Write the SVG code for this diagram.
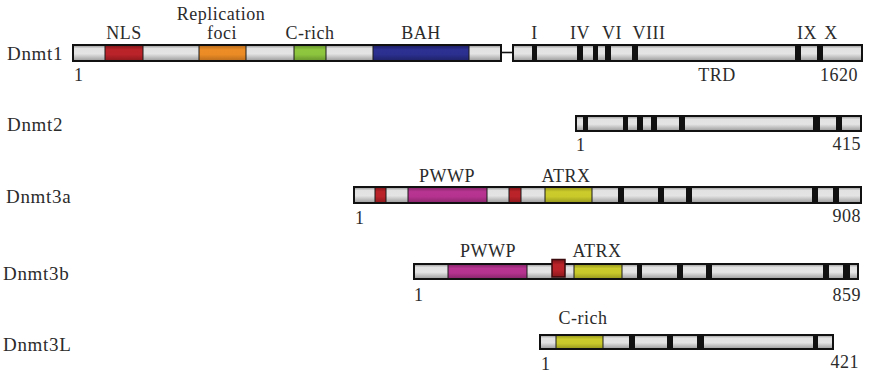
<svg xmlns="http://www.w3.org/2000/svg" width="870" height="377" viewBox="0 0 870 377">
<defs>
<linearGradient id="gGray" x1="0" y1="0" x2="0" y2="1">
<stop offset="0" stop-color="#8e8e8e"/><stop offset="0.22" stop-color="#e2e2e2"/><stop offset="0.55" stop-color="#e4e4e4"/><stop offset="1" stop-color="#9a9a9a"/>
</linearGradient>
<linearGradient id="gRed" x1="0" y1="0" x2="0" y2="1">
<stop offset="0" stop-color="#7a1418"/><stop offset="0.3" stop-color="#bb2429"/><stop offset="0.6" stop-color="#b92329"/><stop offset="1" stop-color="#8a181c"/>
</linearGradient>
<linearGradient id="gOrange" x1="0" y1="0" x2="0" y2="1">
<stop offset="0" stop-color="#b0661a"/><stop offset="0.3" stop-color="#ec8d26"/><stop offset="0.6" stop-color="#ea8b25"/><stop offset="1" stop-color="#b86b1c"/>
</linearGradient>
<linearGradient id="gGreen" x1="0" y1="0" x2="0" y2="1">
<stop offset="0" stop-color="#5f8a2a"/><stop offset="0.3" stop-color="#8fc83f"/><stop offset="0.6" stop-color="#8cc43e"/><stop offset="1" stop-color="#66922d"/>
</linearGradient>
<linearGradient id="gBlue" x1="0" y1="0" x2="0" y2="1">
<stop offset="0" stop-color="#1a1c5e"/><stop offset="0.3" stop-color="#2d3192"/><stop offset="0.6" stop-color="#2b2f8e"/><stop offset="1" stop-color="#1e2166"/>
</linearGradient>
<linearGradient id="gMag" x1="0" y1="0" x2="0" y2="1">
<stop offset="0" stop-color="#7e2363"/><stop offset="0.3" stop-color="#b83592"/><stop offset="0.6" stop-color="#b5338f"/><stop offset="1" stop-color="#86256a"/>
</linearGradient>
<linearGradient id="gYel" x1="0" y1="0" x2="0" y2="1">
<stop offset="0" stop-color="#8f8f1c"/><stop offset="0.3" stop-color="#cccc2c"/><stop offset="0.6" stop-color="#c9c92b"/><stop offset="1" stop-color="#96961e"/>
</linearGradient>
</defs>
<style>
text{font-family:"Liberation Serif","Times New Roman",serif;font-size:18px;fill:#2b2b2b;letter-spacing:0.5px}
.row{font-size:19px;letter-spacing:0.7px}
.m{text-anchor:middle}
.e{text-anchor:end}
.g{fill:url(#gGray)}
.red{fill:url(#gRed)}
.or{fill:url(#gOrange)}
.gr{fill:url(#gGreen)}
.bl{fill:url(#gBlue)}
.mg{fill:url(#gMag)}
.yl{fill:url(#gYel)}
.seg{stroke:#1a1a1a;stroke-width:1}
.band{fill:#111}
.out{fill:none;stroke:#111;stroke-width:2}
.link{stroke:#111;stroke-width:1.6;fill:none}
</style>

<g id="dnmt1">
<text class="row" x="7" y="60">Dnmt1</text>
<rect class="g" x="73" y="45" width="428" height="16"/>
<rect class="seg red" x="105" y="45" width="38" height="16"/>
<rect class="seg or" x="199" y="45" width="47" height="16"/>
<rect class="seg gr" x="294" y="45" width="32" height="16"/>
<rect class="seg bl" x="373" y="45" width="96" height="16"/>
<rect class="out" x="73" y="45" width="428" height="16"/>
<rect class="g" x="513" y="45" width="349" height="16"/>
<rect class="band" x="532" y="45" width="5" height="16"/>
<rect class="band" x="577" y="45" width="6" height="16"/>
<rect class="band" x="593" y="45" width="5" height="16"/>
<rect class="band" x="605" y="45" width="6" height="16"/>
<rect class="band" x="632" y="45" width="6" height="16"/>
<rect class="band" x="795" y="45" width="6" height="16"/>
<rect class="band" x="817" y="45" width="6" height="16"/>
<rect class="out" x="513" y="45" width="349" height="16"/>
<text class="m" x="124" y="38.5">NLS</text>
<text class="m" x="221" y="20">Replication</text>
<text class="m" x="222" y="38.5">foci</text>
<text class="m" x="310" y="38.5">C-rich</text>
<text class="m" x="421" y="38.5">BAH</text>
<text class="m" x="534.5" y="38.5">I</text>
<text class="m" x="580" y="38.5">IV</text>
<text class="m" x="612" y="38.5">VI</text>
<text class="m" x="649" y="38.5">VIII</text>
<text class="m" x="807" y="38.5">IX</text>
<text class="m" x="831" y="38.5">X</text>
<text x="74" y="81">1</text>
<text class="m" x="717" y="81">TRD</text>
<text class="e" x="858" y="81">1620</text>
</g>

<g id="dnmt2">
<text class="row" x="7" y="131">Dnmt2</text>
<rect class="g" x="576" y="116" width="285" height="15"/>
<rect class="band" x="583" y="116" width="5" height="15"/>
<rect class="band" x="623" y="116" width="5" height="15"/>
<rect class="band" x="637" y="116" width="6" height="15"/>
<rect class="band" x="651" y="116" width="6" height="15"/>
<rect class="band" x="679" y="116" width="6" height="15"/>
<rect class="band" x="813" y="116" width="7" height="15"/>
<rect class="band" x="836" y="116" width="6" height="15"/>
<rect class="out" x="576" y="116" width="285" height="15"/>
<text x="576" y="151">1</text>
<text class="e" x="861" y="150">415</text>
</g>

<g id="dnmt3a">
<text class="row" x="6" y="203">Dnmt3a</text>
<rect class="g" x="354" y="187" width="507" height="16"/>
<rect class="seg red" x="375" y="187" width="11" height="16"/>
<rect class="seg mg" x="408" y="187" width="79" height="16"/>
<rect class="seg red" x="509" y="187" width="12" height="16"/>
<rect class="seg yl" x="545" y="187" width="47" height="16"/>
<rect class="band" x="618" y="187" width="6" height="16"/>
<rect class="band" x="658" y="187" width="6" height="16"/>
<rect class="band" x="686" y="187" width="6" height="16"/>
<rect class="band" x="812" y="187" width="6" height="16"/>
<rect class="band" x="833" y="187" width="6" height="16"/>
<rect class="out" x="354" y="187" width="507" height="16"/>
<text class="m" x="447" y="181.5">PWWP</text>
<text class="m" x="566" y="181.5">ATRX</text>
<text x="355" y="224">1</text>
<text class="e" x="861" y="222">908</text>
</g>

<g id="dnmt3b">
<text class="row" x="3" y="280">Dnmt3b</text>
<rect class="g" x="414" y="264" width="444" height="15"/>
<rect class="seg mg" x="448" y="264" width="79" height="15"/>
<rect class="seg yl" x="574" y="264" width="48" height="15"/>
<rect class="band" x="637" y="264" width="5" height="15"/>
<rect class="band" x="677" y="264" width="6" height="15"/>
<rect class="band" x="706" y="264" width="6" height="15"/>
<rect class="band" x="823" y="264" width="6" height="15"/>
<rect class="band" x="843" y="264" width="7" height="15"/>
<rect class="out" x="414" y="264" width="444" height="15"/>
<rect class="red" x="552" y="259.5" width="13" height="17.5" stroke="#3a0a0c" stroke-width="1.5"/>
<text class="m" x="488" y="257">PWWP</text>
<text class="m" x="597" y="257">ATRX</text>
<text x="414" y="301">1</text>
<text class="e" x="861" y="301">859</text>
</g>

<g id="dnmt3L">
<text class="row" x="3" y="351">Dnmt3L</text>
<rect class="g" x="540" y="335" width="293" height="14"/>
<rect class="seg yl" x="556" y="335" width="47" height="14"/>
<rect class="band" x="629" y="335" width="6" height="14"/>
<rect class="band" x="667" y="335" width="6" height="14"/>
<rect class="band" x="697" y="335" width="7" height="14"/>
<rect class="band" x="813" y="335" width="5" height="14"/>
<rect class="out" x="540" y="335" width="293" height="14"/>
<text class="m" x="583" y="324">C-rich</text>
<text x="541" y="370">1</text>
<text class="e" x="859" y="368">421</text>
</g>

<g id="connectors">
<line class="link" x1="501" y1="52.5" x2="513" y2="52.5"/>
</g>
</svg>
